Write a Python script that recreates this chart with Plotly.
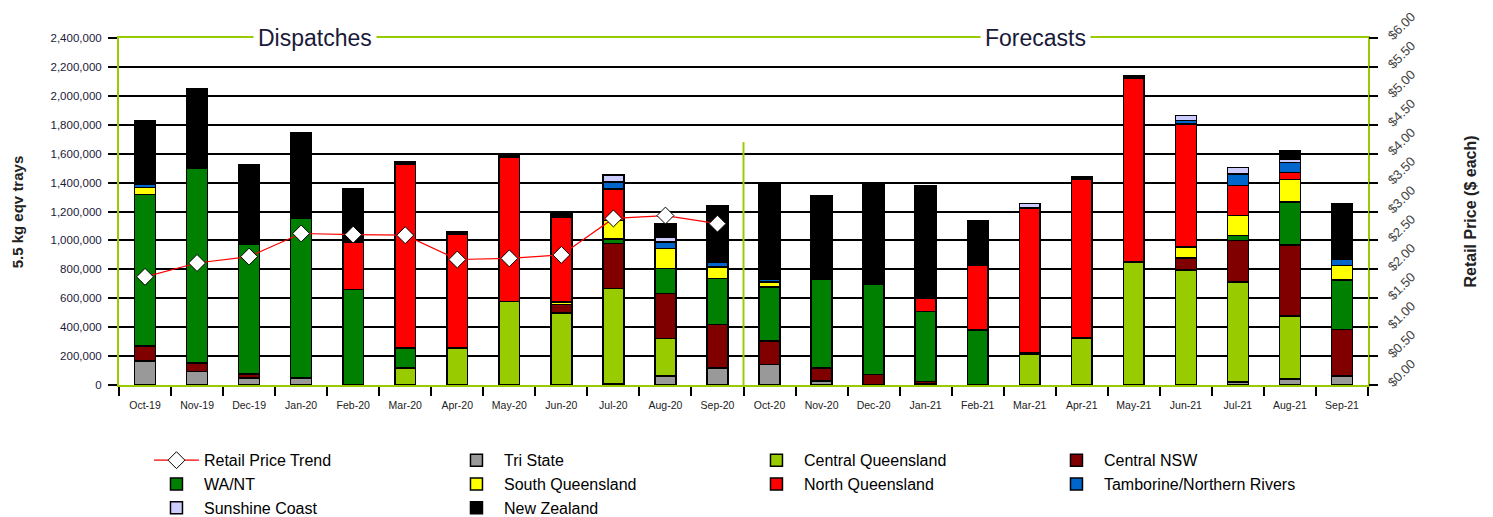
import plotly.graph_objects as go

months = ["Oct-19", "Nov-19", "Dec-19", "Jan-20", "Feb-20", "Mar-20", "Apr-20", "May-20",
          "Jun-20", "Jul-20", "Aug-20", "Sep-20", "Oct-20", "Nov-20", "Dec-20", "Jan-21",
          "Feb-21", "Mar-21", "Apr-21", "May-21", "Jun-21", "Jul-21", "Aug-21", "Sep-21"]

# values in thousands of 5.5 kg eqv trays (stack order bottom -> top)
tri_state = [165, 95, 50, 50, 0, 0, 0, 0, 0, 8, 61, 119, 142, 26, 3, 12, 0, 0, 0, 0, 0, 20, 43, 61]
central_qld = [0, 0, 0, 0, 0, 119, 257, 579, 499, 659, 260, 0, 0, 0, 0, 0, 0, 211, 326, 852, 794, 693, 433, 0]
central_nsw = [106, 58, 27, 0, 0, 0, 0, 0, 57, 311, 312, 299, 161, 93, 70, 13, 0, 10, 0, 0, 85, 288, 491, 323]
wa_nt = [1046, 1348, 899, 1106, 660, 138, 0, 0, 0, 33, 172, 318, 376, 615, 627, 485, 379, 0, 0, 0, 0, 33, 299, 341]
south_qld = [50, 0, 0, 0, 0, 0, 0, 0, 19, 128, 139, 81, 32, 0, 0, 0, 0, 0, 0, 0, 74, 138, 155, 101]
north_qld = [0, 0, 0, 0, 327, 1272, 788, 996, 588, 217, 0, 0, 0, 0, 0, 88, 447, 1004, 1095, 1272, 853, 207, 50, 0]
tamborine = [19, 0, 0, 0, 0, 0, 0, 0, 0, 49, 44, 30, 23, 0, 0, 0, 0, 0, 0, 0, 25, 81, 69, 47]
sunshine = [0, 0, 0, 0, 0, 0, 0, 0, 0, 48, 35, 0, 0, 0, 0, 0, 0, 30, 0, 0, 32, 46, 19, 0]
new_zealand = [444, 547, 544, 592, 371, 14, 18, 23, 34, 0, 93, 396, 668, 578, 702, 783, 313, 0, 16, 14, 0, 0, 62, 382]

price_months = months[:12]
retail_price = [1.87, 2.11, 2.22, 2.62, 2.60, 2.59, 2.17, 2.19, 2.25, 2.88, 2.93, 2.79]

series = [
    ("Tri State", tri_state, "#999999"),
    ("Central Queensland", central_qld, "#99CC00"),
    ("Central NSW", central_nsw, "#800000"),
    ("WA/NT", wa_nt, "#008000"),
    ("South Queensland", south_qld, "#FFFF00"),
    ("North Queensland", north_qld, "#FF0000"),
    ("Tamborine/Northern Rivers", tamborine, "#0066CC"),
    ("Sunshine Coast", sunshine, "#CCCCFF"),
    ("New Zealand", new_zealand, "#000000"),
]

FONT = "Liberation Sans, Arial, sans-serif"
GREEN = "#99CC00"

fig = go.Figure()

fig.add_trace(go.Scatter(
    x=price_months, y=retail_price, name="Retail Price Trend", yaxis="y2",
    mode="lines+markers",
    line=dict(color="#FF0000", width=1.2),
    marker=dict(symbol="diamond", size=13, color="white", line=dict(color="black", width=1)),
))

for name, vals, col in series:
    fig.add_trace(go.Bar(
        x=months, y=[v * 1000 if v else None for v in vals], name=name,
        marker=dict(color=col, line=dict(color="black", width=1.5)),
    ))

fig.update_layout(
    width=1493, height=517,
    margin=dict(l=119, r=125, t=38, b=131.5, autoexpand=False),
    paper_bgcolor="white", plot_bgcolor="white",
    barmode="stack", bargap=0.6,
    font=dict(family=FONT, color="#222", size=12),
    showlegend=True,
    legend=dict(
        orientation="h", x=0.024, xanchor="left", y=-0.168, yanchor="top",
        traceorder="normal", entrywidth=240, entrywidthmode="pixels",
        itemwidth=45, font=dict(family=FONT, size=16, color="black"),
        tracegroupgap=0, bgcolor="rgba(0,0,0,0)",
    ),
    xaxis=dict(
        type="category", categoryorder="array", categoryarray=months,
        range=[-0.5, len(months) - 0.5],
        tickson="boundaries", ticks="outside", ticklen=9,
        tickcolor="black", tickwidth=1.5, showgrid=False, automargin=False,
        showline=True, linecolor=GREEN, linewidth=2, mirror=True,
        ticklabelstandoff=9,
        tickfont=dict(size=10.5, color="#222"),
    ),
    yaxis=dict(
        range=[0, 2400000], dtick=200000, tickformat=",d", automargin=False,
        showgrid=True, gridcolor="black", gridwidth=1.5, zeroline=False,
        showline=True, linecolor=GREEN, linewidth=2, mirror=True,
        ticks="outside", ticklen=9, tickcolor="black", tickwidth=1.5,
        ticklabelstandoff=4,
        tickfont=dict(size=11.5, color="#1a1a3a"),
    ),
    yaxis2=dict(
        overlaying="y", side="right", range=[0, 6], dtick=0.5, automargin=False,
        tickprefix="$", tickformat=".2f", showgrid=False, zeroline=False,
        ticks="outside", ticklen=9, tickcolor="black", tickwidth=1.5,
        ticklabelstandoff=8,
        tickangle=-45, tickfont=dict(size=13, color="#444"),
    ),
    shapes=[dict(type="line", xref="x", yref="y", x0=11.5, x1=11.5, y0=0, y1=1680000,
                 line=dict(color=GREEN, width=2))],
    annotations=[
        dict(text="Dispatches", xref="paper", yref="paper", x=0.157, y=1.0,
             xanchor="center", yanchor="middle", showarrow=False, bgcolor="white",
             borderpad=4, font=dict(size=23, color="#1a1a3a", family=FONT)),
        dict(text="Forecasts", xref="paper", yref="paper", x=0.734, y=1.0,
             xanchor="center", yanchor="middle", showarrow=False, bgcolor="white",
             borderpad=4, font=dict(size=23, color="#1a1a3a", family=FONT)),
        dict(text="<b>5.5 kg eqv trays</b>", xref="paper", yref="paper", x=-0.081, y=0.5,
             xanchor="center", yanchor="middle", textangle=-90, showarrow=False,
             font=dict(size=15, color="#222", family=FONT)),
        dict(text="<b>Retail Price ($ each)</b>", xref="paper", yref="paper", x=1.0817, y=0.5,
             xanchor="center", yanchor="middle", textangle=-90, showarrow=False,
             font=dict(size=16, color="#222", family=FONT)),
    ],
)

fig.write_html("out.html", config={"displayModeBar": False},
               post_script="document.body.style.margin='0';")
